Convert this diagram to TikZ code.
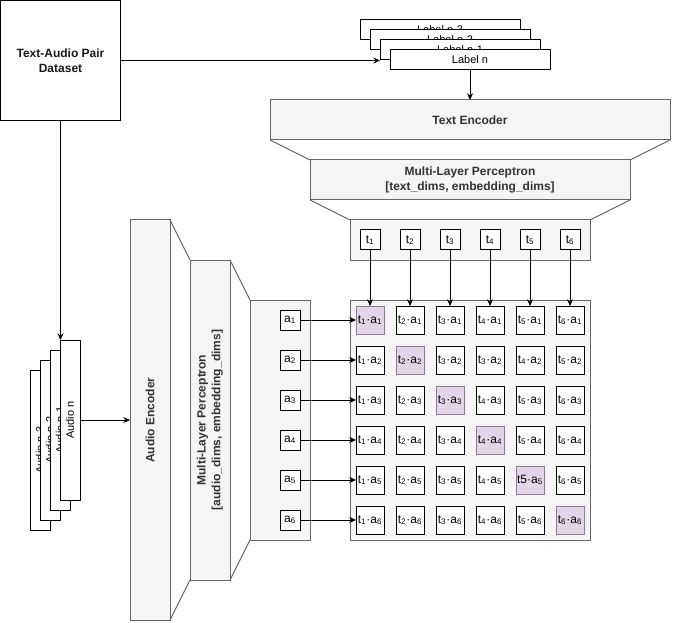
\documentclass[tikz,border=0pt]{standalone}
\usepackage{fontspec}
\setmainfont{Liberation Sans}
\usetikzlibrary{arrows.meta, positioning}
\definecolor{clFill}{HTML}{F5F5F5}
\definecolor{clEdge}{HTML}{666666}
\definecolor{clText}{HTML}{333333}
\definecolor{clDiag}{HTML}{E1D5E7}
\definecolor{clDiagEdge}{HTML}{9673A6}
\tikzset{
  clnode/.style={
    draw, inner sep=0pt, outer sep=0pt, align=center, line width=0.75pt,
    font=\fontsize{9}{11}\selectfont
  },
  clblock/.style={clnode, fill=clFill, draw=clEdge, text=clText,
    font=\fontsize{9}{11}\selectfont\bfseries},
  clsource/.style={clnode, fill=white, minimum width=90pt, minimum height=90pt,
    font=\fontsize{9}{11}\selectfont\bfseries, text=black!90},
  cllabel/.style={clnode, fill=white, minimum width=120pt, minimum height=15pt,
    font=\fontsize{8.25}{10}\selectfont},
  claudio/.style={cllabel, rotate=90},
  clvec/.style={clnode, fill=white, minimum size=15pt},
  clcell/.style={clnode, fill=white, minimum size=21pt},
  cldiag/.style={clcell, fill=clDiag, draw=clDiagEdge},
  clflow/.style={-{Stealth[length=5pt, width=4.5pt]}, line width=0.75pt},
  clside/.style={draw=clEdge, line width=0.75pt}
}
\begin{document}
\begin{tikzpicture}[x=0.75pt, y=-0.75pt]
  \useasboundingbox (0,0) rectangle (673,623);
  % dataset
  \node[clsource] (data) at (60.5,60.5) {Text-Audio Pair\\Dataset};
  % text branch
  \node[cllabel] (lbl3) at (440,30) {Label n-3};
  \node[cllabel] (lbl2) at (450,40) {Label n-2};
  \node[cllabel] (lbl1) at (460,50) {Label n-1};
  \node[cllabel] (lbl0) at (470,60) {Label n};
  \node[clblock, minimum width=300pt, minimum height=30pt] (tenc) at (470,120) {Text Encoder};
  \node[clblock, minimum width=240pt, minimum height=30pt, below=15pt of tenc] (tmlp)
    {Multi-Layer Perceptron\\{}[text\_dims, embedding\_dims]};
  \node[clblock, minimum width=180pt, minimum height=30pt, below=15pt of tmlp] (tvec) {};
  \draw[clside] (tenc.south west) -- (tmlp.north west);
  \draw[clside] (tenc.south east) -- (tmlp.north east);
  \draw[clside] (tmlp.south west) -- (tvec.north west);
  \draw[clside] (tmlp.south east) -- (tvec.north east);
  % audio branch
  \node[claudio] (aud3) at (40,450) {Audio n-3};
  \node[claudio] (aud2) at (50,440) {Audio n-2};
  \node[claudio] (aud1) at (60,430) {Audio n-1};
  \node[claudio] (aud0) at (70,420) {Audio n};
  \node[clblock, minimum width=300pt, minimum height=30pt, rotate=90] (aenc) at (150,420) {Audio Encoder};
  \node[clblock, minimum width=240pt, minimum height=30pt, rotate=90] (amlp) at (210,420)
    {Multi-Layer Perceptron\\{}[audio\_dims, embedding\_dims]};
  \node[clblock, minimum width=180pt, minimum height=45pt, rotate=90] (avec) at (280,420) {};
  \draw[clside] (aenc.south west) -- (amlp.north west);
  \draw[clside] (aenc.south east) -- (amlp.north east);
  \draw[clside] (amlp.south west) -- (avec.north west);
  \draw[clside] (amlp.south east) -- (avec.north east);
  % similarity matrix
  \node[clblock, minimum size=180pt] (simmat) at (470,420) {};
  \foreach \c in {1,...,6}
    \node[clvec] (t\c) at (330+40*\c,240) {t\textsubscript{\c}};
  \foreach \r in {1,...,6}
    \node[clvec] (a\r) at (290,280+40*\r) {a\textsubscript{\r}};
  \foreach \r in {1,...,6}
    \foreach \c in {1,...,6} {
      \pgfmathtruncatemacro{\tidx}{(\r==2 && \c>3) ? \c-1 : \c}
      \ifnum\r=\c \def\cellstyle{cldiag}\else\def\cellstyle{clcell}\fi
      \ifnum\r\c=55
        \node[\cellstyle] (c-\r-\c) at (330+40*\c,280+40*\r) {t5·a\textsubscript{\r}};
      \else
        \node[\cellstyle] (c-\r-\c) at (330+40*\c,280+40*\r) {t\textsubscript{\tidx}·a\textsubscript{\r}};
      \fi
    }
  % connectors
  \draw[clflow] (data.east) -- (data.east -| lbl1.west);
  \draw[clflow] (lbl0.south) -- (tenc.north);
  \draw[clflow] (data.south) -- (data.south |- aud0.east);
  \draw[clflow] (aud0.south) -- (aenc.north);
  \foreach \c in {1,...,6}
    \draw[clflow] (t\c.south) -- (c-1-\c.north);
  \foreach \r in {1,...,6}
    \draw[clflow] (a\r.east) -- (c-\r-1.west);
\end{tikzpicture}
\end{document}
